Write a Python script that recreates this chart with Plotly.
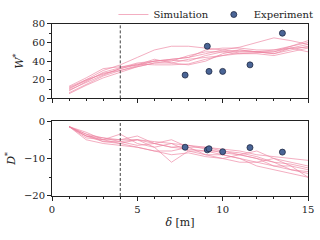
import plotly.graph_objects as go

x_sim = [1, 2, 3, 4, 5, 6, 7, 8, 9, 10, 11, 12, 13, 14, 15]
W_sim = [
    [12, 20, 30, 36, 44, 52, 56, 56, 54, 52, 50, 50, 48, 52, 56],
    [8, 18, 28, 33, 38, 40, 42, 44, 48, 52, 55, 60, 65, 62, 58],
    [10, 20, 26, 32, 36, 42, 38, 36, 40, 48, 52, 50, 48, 54, 58],
    [6, 15, 24, 30, 34, 38, 40, 46, 50, 50, 52, 50, 50, 56, 62],
    [13, 22, 32, 34, 36, 40, 42, 44, 52, 54, 54, 52, 52, 54, 50],
    [5, 14, 22, 28, 34, 38, 38, 42, 44, 46, 48, 48, 46, 50, 54],
    [9, 17, 25, 32, 37, 36, 36, 37, 42, 46, 50, 50, 52, 56, 60],
    [11, 19, 27, 30, 35, 40, 41, 40, 46, 50, 48, 49, 50, 54, 55],
]
D_sim = [
    [-1.5, -4, -5.5, -5.5, -5, -6, -7, -7.5, -8, -8, -8.5, -9.5, -11, -13, -14],
    [-1.5, -3.5, -4.5, -5, -4, -6, -5, -7, -7, -8, -9, -8, -10, -11, -12],
    [-1.5, -4.5, -5, -6, -5, -7, -11, -8, -9, -10, -9, -10, -12, -12, -13],
    [-1.5, -3, -5, -3.5, -6, -7, -6, -8, -8, -9, -10, -11, -10, -12, -15],
    [-1.5, -5, -6, -6.5, -7, -8, -8, -7, -9, -9, -10, -12, -13, -14, -15],
    [-1.5, -4, -5, -5, -5, -5.5, -6, -6.5, -7, -7.5, -8, -9, -9.5, -10, -10.5],
    [-1.5, -3.5, -5.5, -6, -7, -8, -9, -8.5, -9.5, -10, -11, -11, -12, -13, -13.5],
    [-1.5, -4, -4.5, -5.5, -6.5, -6, -7, -6.5, -7.5, -8.5, -9, -10, -11, -11.5, -12.5],
]
x_exp = [7.8, 9.1, 9.2, 10.0, 11.6, 13.5]
W_exp = [25, 56, 29, 29, 36, 70]
D_exp = [-7.0, -7.7, -7.4, -8.2, -7.1, -8.3]
x_cut = 4

SIM_COLOR = "rgba(236,130,160,0.65)"
EXP_COLOR = "#4a6596"
FONT = "DejaVu Serif"

fig = go.Figure()
for i, w in enumerate(W_sim):
    fig.add_trace(go.Scatter(x=x_sim, y=w, mode="lines", line=dict(color=SIM_COLOR, width=1),
                             name="Simulation", legendgroup="sim", showlegend=(i == 0),
                             xaxis="x", yaxis="y"))
for d in D_sim:
    fig.add_trace(go.Scatter(x=x_sim, y=d, mode="lines", line=dict(color=SIM_COLOR, width=1),
                             name="Simulation", legendgroup="sim", showlegend=False,
                             xaxis="x2", yaxis="y2"))
fig.add_trace(go.Scatter(x=x_exp, y=W_exp, mode="markers", name="Experiment",
                         marker=dict(color=EXP_COLOR, size=6, line=dict(color="#1f2a44", width=0.8)),
                         xaxis="x", yaxis="y"))
fig.add_trace(go.Scatter(x=x_exp, y=D_exp, mode="markers", name="Experiment", showlegend=False,
                         marker=dict(color=EXP_COLOR, size=6, line=dict(color="#1f2a44", width=0.8)),
                         xaxis="x2", yaxis="y2"))

axis_common = dict(showline=True, linecolor="#222", linewidth=1, mirror=True, ticks="outside",
                   ticklen=4, tickcolor="#222", showgrid=False, zeroline=False, automargin=False,
                   tickfont=dict(family=FONT, size=10, color="#222"))

fig.update_layout(
    width=320, height=240, template="none",
    margin=dict(l=52, r=12, t=0, b=0),
    paper_bgcolor="white", plot_bgcolor="white",
    font=dict(family=FONT, size=10, color="#222"),
    showlegend=True,
    legend=dict(orientation="h", xref="paper", yref="paper", x=0.24, y=1.01,
                xanchor="left", yanchor="top",
                font=dict(family=FONT, size=10), bgcolor="rgba(0,0,0,0)", itemwidth=30,
                tracegroupgap=0),
    xaxis=dict(domain=[0, 1], range=[0, 15], anchor="y", showticklabels=False,
               dtick=5, minor=dict(dtick=1, ticks="outside", ticklen=2, tickcolor="#222"),
               **axis_common),
    yaxis=dict(domain=[0.595, 0.908], range=[0, 80], anchor="x", dtick=20,
               minor=dict(dtick=10, ticks="outside", ticklen=2, tickcolor="#222"),
               title=dict(text="<i>W</i><sup>*</sup>", font=dict(family=FONT, size=11), standoff=6),
               **axis_common),
    xaxis2=dict(domain=[0, 1], range=[0, 15], anchor="y2", dtick=5,
                minor=dict(dtick=1, ticks="outside", ticklen=2, tickcolor="#222"),
                title=dict(text="<i>δ</i> [m]", font=dict(family=FONT, size=11), standoff=4),
                **axis_common),
    yaxis2=dict(domain=[0.185, 0.5], range=[-20, 0], anchor="x2", dtick=10,
                minor=dict(dtick=5, ticks="outside", ticklen=2, tickcolor="#222"),
                title=dict(text="<i>D</i><sup>*</sup>", font=dict(family=FONT, size=11), standoff=6),
                **axis_common),
    shapes=[
        dict(type="line", xref="x", yref="y domain", x0=x_cut, x1=x_cut, y0=0, y1=1,
             line=dict(color="#444", width=1, dash="3px,2px")),
        dict(type="line", xref="x2", yref="y2 domain", x0=x_cut, x1=x_cut, y0=0, y1=1,
             line=dict(color="#444", width=1, dash="3px,2px")),
    ],
)

fig.write_html("out.html", config={"displayModeBar": False},
               post_script="document.body.style.margin='0px';")
